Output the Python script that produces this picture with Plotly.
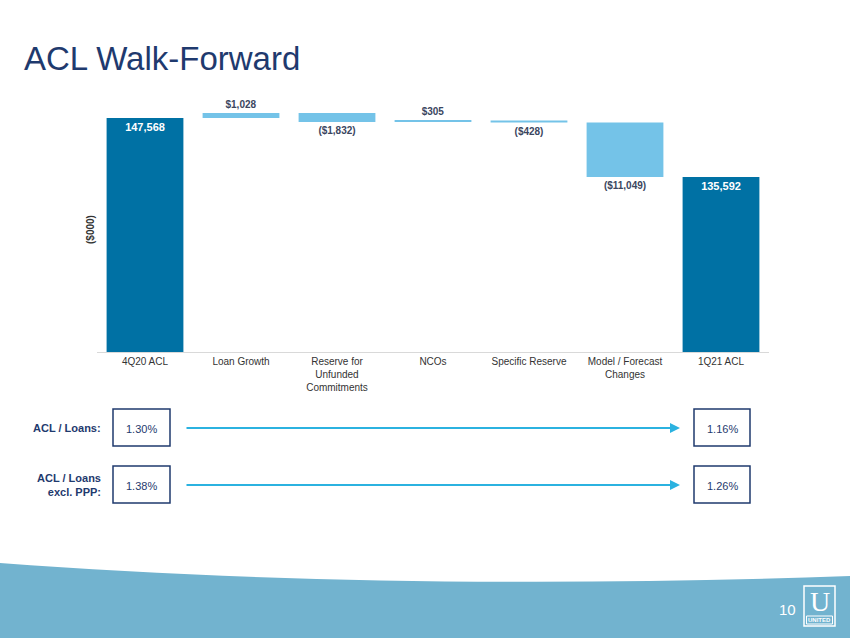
import plotly.graph_objects as go

W, H = 850, 638

# ---- data ----
categories = ["4Q20 ACL", "Loan Growth", "Reserve for<br>Unfunded<br>Commitments",
              "NCOs", "Specific Reserve", "Model / Forecast<br>Changes", "1Q21 ACL"]
values = [147568, 1028, -1832, 305, -428, -11049, 135592]
measures = ["absolute", "relative", "relative", "relative", "relative", "relative", "total"]

ratio_rows = ["ACL / Loans:", "ACL / Loans<br>excl. PPP:"]
ratio_start = [1.30, 1.38]
ratio_end = [1.16, 1.26]

COLORS = {
    'total': '#0071A4',
    'step': '#74C3E8',
    'navy': '#1F3A6E',
    'label': '#3B4660',
    'tick': '#333333',
    'arrow': '#2BB2E0',
    'wave': '#72B3CF',
}


def px(x):
    return x / W


def py(y):
    return 1 - y / H


def fmt(v, m):
    if m != "relative":
        return f"<b>{v:,}</b>"
    return f"<b>${v:,}</b>" if v >= 0 else f"<b>(${-v:,})</b>"


def note(x, y, text, size, color, family="Arial", **kw):
    # annotation placed by its centre in slide pixels
    opts = dict(xanchor="center", yanchor="middle")
    opts.update(kw)
    fig.add_annotation(x=px(x), y=py(y), xref="paper", yref="paper",
                       text=text, showarrow=False,
                       font=dict(family=family, size=size, color=color), **opts)


text_vals = [fmt(v, m) for v, m in zip(values, measures)]
text_pos = ["inside" if m != "relative" else "outside" for m in measures]

fig = go.Figure()
fig.add_trace(go.Waterfall(
    x=categories,
    y=values,
    measure=measures,
    text=text_vals,
    textposition=text_pos,
    insidetextanchor="end",
    insidetextfont=dict(family="Arial", size=11, color="#FFFFFF"),
    outsidetextfont=dict(family="Arial", size=10, color=COLORS['label']),
    increasing=dict(marker=dict(color=COLORS['step'])),
    decreasing=dict(marker=dict(color=COLORS['step'])),
    totals=dict(marker=dict(color=COLORS['total'])),
    connector=dict(visible=False),
    cliponaxis=False,
    hoverinfo="skip",
))

fig.update_layout(
    width=W, height=H,
    margin=dict(l=0, r=0, t=0, b=0),
    paper_bgcolor="white",
    plot_bgcolor="white",
    showlegend=False,
    bargap=0.21,
    font=dict(family="Arial", color=COLORS['tick']),
    xaxis=dict(
        domain=[px(97), px(769)],
        showline=True, linecolor="#D9D9D9", linewidth=1,
        showgrid=False, ticks="",
        tickfont=dict(size=10, color=COLORS['tick']),
    ),
    yaxis=dict(
        domain=[py(352), py(106)],
        range=[100000, 150000],
        showticklabels=False, showgrid=False, zeroline=False, showline=False,
    ),
)

# title
note(22, 58, "ACL Walk-Forward", 33, COLORS['navy'], xanchor="left")

# y-axis title
note(90, 230, "<b>($000)</b>", 10, COLORS['tick'], textangle=-90)

# ratio rows under the chart
row_y = [428, 485]
for i, label in enumerate(ratio_rows):
    yc = row_y[i]
    note(103, yc, f"<b>{label}</b>", 11, COLORS['navy'], xanchor="right", align="right")
    for x0, x1, val in [(113, 170, ratio_start[i]), (694, 750, ratio_end[i])]:
        fig.add_shape(type="rect", xref="paper", yref="paper",
                      x0=px(x0), x1=px(x1), y0=py(yc - 19), y1=py(yc + 18),
                      line=dict(color=COLORS['navy'], width=1.5),
                      fillcolor="white")
        note((x0 + x1) / 2, yc + 1, f"{val:.2f}%", 11, COLORS['navy'])
    fig.add_annotation(x=px(680), y=py(yc), xref="paper", yref="paper",
                       ax=-(680 - 185), ay=0, text="", showarrow=True,
                       arrowhead=2, arrowsize=1, arrowwidth=2,
                       arrowcolor=COLORS['arrow'])

# footer wave
pts = [(0, 563), (250, 582), (550, 587), (850, 576)]
wave = (f"M {px(pts[0][0])},{py(pts[0][1])} "
        f"C {px(pts[1][0])},{py(pts[1][1])} {px(pts[2][0])},{py(pts[2][1])} "
        f"{px(pts[3][0])},{py(pts[3][1])} L 1,0 L 0,0 Z")
fig.add_shape(type="path", path=wave, xref="paper", yref="paper",
              fillcolor=COLORS['wave'], line=dict(width=0), layer="below")

# page number and logo
note(787, 609, "10", 15, "white")
fig.add_shape(type="rect", xref="paper", yref="paper",
              x0=px(804), x1=px(835), y0=py(626), y1=py(586),
              line=dict(color="white", width=1.5))
fig.add_shape(type="rect", xref="paper", yref="paper",
              x0=px(806.5), x1=px(832.5), y0=py(624), y1=py(616),
              line=dict(color="white", width=1))
note(819.5, 601, "U", 28, "white", family="Liberation Serif")
note(819.5, 620, "<b>UNITED</b>", 6, "white")

# the page body has a default 8px margin; drop it so the slide sits at 0,0
fig.write_html("out.html", config={"displayModeBar": False},
               post_script="document.body.style.margin='0';")
